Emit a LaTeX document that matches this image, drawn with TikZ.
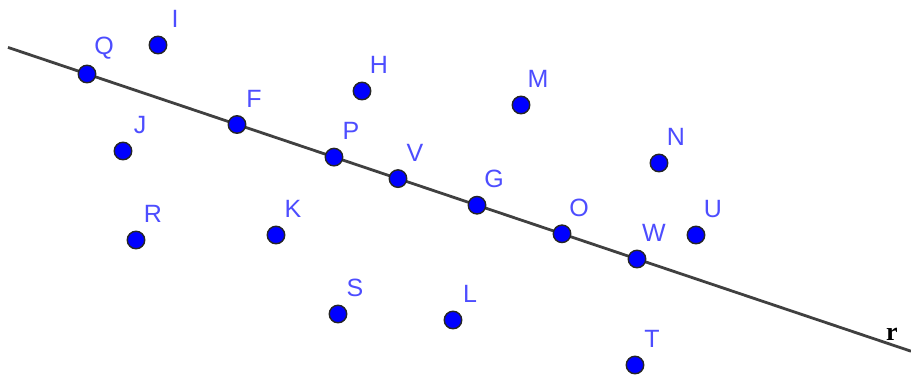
\documentclass[tikz,border=0pt]{standalone}
\usepackage{fontspec}
\newfontfamily\lblfont{Liberation Sans}
\newfontfamily\rfont{Liberation Serif}
\definecolor{ptblue}{RGB}{0,0,255}
\definecolor{lblblue}{RGB}{77,77,255}
\definecolor{linegray}{RGB}{64,64,64}
\tikzset{
  gpoint/.style={circle,fill=ptblue,draw=black!85,line width=1.4pt,minimum size=17.5pt,inner sep=0pt},
  gtext/.style={text=lblblue,font=\lblfont\fontsize{25}{28}\selectfont,inner sep=0pt,anchor=center},
  rline/.style={draw=linegray,line width=2.8pt}
}
\newcommand{\gpt}[4]{%
  \node[gpoint] (#1) at (#2,#3) {};
  \node[gtext] (#1-l) at ([xshift=17pt,yshift=26pt]#1.center) {#4};
}
\begin{document}
\begin{tikzpicture}[x=1pt,y=-1pt]
\useasboundingbox (0,0) rectangle (911,376);
\coordinate (r1) at (8,47.4);
\coordinate (r2) at (911,351.2);
\draw[rline] (r1) -- (r2);
\node[font=\rfont\bfseries\fontsize{26}{28}\selectfont,inner sep=0pt] (rlab) at (892,334) {r};
\gpt{Q}{87}{74}{Q}
\gpt{I}{158}{45}{I}
\gpt{F}{237}{124.5}{F}
\gpt{J}{123}{151}{J}
\gpt{H}{362}{91}{H}
\gpt{P}{334}{157.1}{P}
\gpt{V}{398}{178.6}{V}
\gpt{G}{477}{205.2}{G}
\gpt{M}{521}{105}{M}
\gpt{O}{562}{233.8}{O}
\gpt{N}{659}{163}{N}
\gpt{U}{696}{235}{U}
\gpt{W}{637}{259}{W}
\gpt{T}{635}{365}{T}
\gpt{R}{136}{240}{R}
\gpt{K}{276}{235}{K}
\gpt{S}{338}{314}{S}
\gpt{L}{453}{320}{L}
\end{tikzpicture}
\end{document}
